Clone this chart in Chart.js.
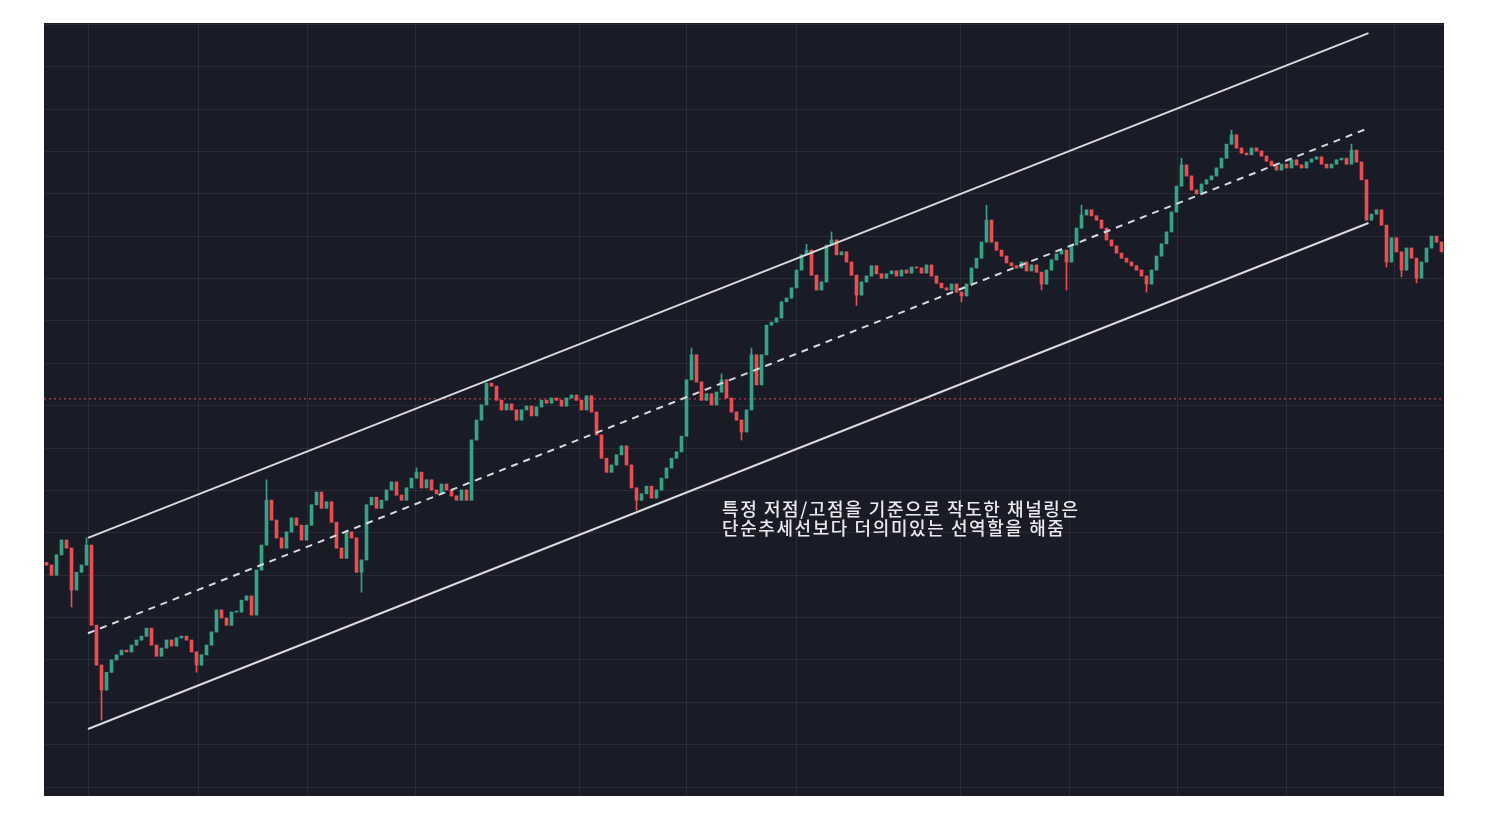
<!DOCTYPE html>
<html>
<head>
<meta charset="utf-8">
<script src="https://cdn.jsdelivr.net/npm/chart.js@4.4.1/dist/chart.umd.min.js"></script>
<style>
  html, body { margin: 0; background: #ffffff; }
  #wrap { position: absolute; left: 44px; top: 23px; width: 1400px; height: 773px; background: #191c27; }
</style>
</head>
<body>
<div id="wrap"><canvas id="myChart"></canvas></div>
<script>
// closing prices, one per candle (open = previous close)
const closes = [
  25240, 25000, 25480, 25830, 25640, 24650, 25070, 25240, 25710, 23820,
  22880, 22290, 22710, 23000, 23120, 23230, 23190, 23350, 23470, 23560,
  23750, 23350, 23090, 23280, 23470, 23330, 23520, 23560, 23470, 23190,
  22880, 23120, 23350, 23660, 24180, 23990, 23820, 24130, 24130, 24410,
  24510, 24060, 25120, 25710, 26770, 26300, 25880, 25640, 26020, 26350,
  26180, 25830, 26180, 26660, 26960, 26580, 26730, 26250, 25640, 25400,
  26020, 25880, 25070, 25360, 26660, 26840, 26580, 26770, 27010, 27200,
  26890, 26770, 27060, 27290, 27430, 27060, 27250, 27010, 26920, 27150,
  27010, 26870, 26770, 27010, 26770, 28190, 28660, 29020, 29530, 29460,
  29130, 28900, 29040, 28900, 28660, 28900, 28990, 28760, 28970, 29130,
  29060, 29180, 29130, 28990, 29180, 29250, 29130, 28900, 29230, 28850,
  28310, 27760, 27430, 27600, 27840, 28050, 27600, 27060, 26770, 26920,
  27100, 26820, 27010, 27290, 27530, 27760, 27910, 28280, 29610, 30200,
  29560, 29130, 29280, 29020, 29320, 29610, 29180, 28850, 28660, 28380,
  28900, 30200, 29490, 30200, 30900, 30970, 31070, 31450, 31540, 31780,
  32200, 32560, 32670, 32080, 31730, 31920, 32790, 32910, 32560, 32630,
  32390, 32080, 31610, 31920, 32060, 32300, 32110, 32010, 32110, 32180,
  32060, 32200, 32130, 32270, 32250, 32130, 32320, 32060, 31890, 31780,
  31730, 31870, 31680, 31590, 31870, 32250, 32480, 32860, 33380, 32860,
  32670, 32530, 32370, 32300, 32250, 32390, 32180, 32320, 32150, 31870,
  32200, 32440, 32580, 32670, 32390, 32790, 33190, 33500, 33620, 33480,
  33380, 33190, 32910, 32770, 32600, 32480, 32390, 32300, 32200, 32060,
  31870, 32200, 32530, 32820, 33100, 33570, 34180, 34680, 34420, 34090,
  34000, 34230, 34330, 34420, 34610, 34840, 35170, 35390, 35080, 34960,
  34920, 35080, 35010, 34890, 34770, 34660, 34560, 34700, 34610, 34800,
  34680, 34610, 34750, 34820, 34870, 34700, 34610, 34700, 34800, 34840,
  34700, 35030, 34750, 34330, 33380, 33520, 33620, 33260, 32390, 32960,
  32630, 32200, 32720, 32480, 32010, 32390, 32720, 33000, 32860, 32630
];
const firstOpen = 25300;

// long wicks [candle, price]
const wickHighs = [[8, 25880], [44, 27250], [74, 27530], [129, 30360], [135, 29750], [141, 30360],
  [152, 32810], [157, 33100], [188, 33730], [207, 33730], [227, 34840], [237, 35500], [261, 35170]];
const wickLows = [[5, 24250], [11, 21580], [30, 22710], [63, 24600], [118, 26540], [139, 28190],
  [162, 31370], [183, 31450], [199, 31730], [204, 31730], [220, 31680], [268, 32270], [271, 32040], [274, 31900]];

// grid positions
const timeTicks = [8.5, 30.3, 52.1, 73.7, 106.5, 128.1, 150.1, 182.7, 204.5, 226.1, 247.9, 269.5];
const priceTicks = [20000, 21000, 22000, 23000, 24000, 25000, 26000, 27000, 28000, 29000,
  30000, 31000, 32000, 33000, 34000, 35000, 36000, 37000, 38000];

// channel drawn through the swing low / high
const channelX = [8.3, 264.4];
const upperLine = [25880, 37790];
const midLine = [23630, 35550];
const lowerLine = [21370, 33310];
const markLevel = 29160;

const noteLines = ["특정 저점/고점을 기준으로 작도한 채널링은", "단순추세선보다 더의미있는 선역할을 해줌"];
const noteX = 135.1;
const noteY = 26780;
const noteEndX = 206.3; // first line ends here

const upColor = "#36a386";
const downColor = "#eb4d52";
const gridColor = "rgba(255,255,255,0.07)";

var opens = closes.map((c, i) => i == 0 ? firstOpen : closes[i - 1]);
var highs = closes.map((c, i) => Math.max(c, opens[i]));
var lows = closes.map((c, i) => Math.min(c, opens[i]));
wickHighs.forEach(w => { highs[w[0]] = Math.max(highs[w[0]], w[1]); });
wickLows.forEach(w => { lows[w[0]] = Math.min(lows[w[0]], w[1]); });
var candleColors = closes.map((c, i) => c >= opens[i] ? upColor : downColor);

function linePoints(ys) {
  return channelX.map((x, k) => ({ x: x, y: ys[k] }));
}

const notePlugin = {
  id: "note",
  afterDatasetsDraw(chart) {
    const ctx = chart.ctx;
    const x = chart.scales.x.getPixelForValue(noteX);
    const x2 = chart.scales.x.getPixelForValue(noteEndX);
    const y = chart.scales.y.getPixelForValue(noteY);
    ctx.save();
    ctx.font = '500 18px "Noto Sans CJK KR"';
    ctx.fillStyle = "#e8eaef";
    ctx.textBaseline = "top";
    const w = ctx.measureText(noteLines[0]).width;
    const gap = Math.max(0, (x2 - x - w) / (noteLines[0].length - 1));
    ctx.letterSpacing = gap.toFixed(2) + "px";
    noteLines.forEach((t, k) => ctx.fillText(t, x, y + k * 19));
    ctx.restore();
  }
};

new Chart("myChart", {
  data: {
    datasets: [
      {
        type: "line",
        data: [{ x: -0.5, y: markLevel }, { x: closes.length - 0.5, y: markLevel }],
        borderColor: "#e0464e",
        borderWidth: 1,
        borderDash: [2, 3],
        pointRadius: 0,
        order: 10
      },
      {
        type: "bar",
        data: closes.map((c, i) => ({ x: i, y: [lows[i], highs[i]] })),
        backgroundColor: candleColors,
        barThickness: 1,
        grouped: false,
        order: 6
      },
      {
        type: "bar",
        data: closes.map((c, i) => ({ x: i, y: [opens[i], c] })),
        backgroundColor: candleColors,
        barThickness: 3,
        minBarLength: 1,
        grouped: false,
        order: 5
      },
      {
        type: "line",
        data: linePoints(upperLine),
        borderColor: "#d8dae0",
        borderWidth: 2,
        pointRadius: 0,
        order: 1
      },
      {
        type: "line",
        data: linePoints(midLine),
        borderColor: "#d8dae0",
        borderWidth: 2,
        borderDash: [7, 6],
        pointRadius: 0,
        order: 1
      },
      {
        type: "line",
        data: linePoints(lowerLine),
        borderColor: "#d8dae0",
        borderWidth: 2,
        pointRadius: 0,
        order: 1
      }
    ]
  },
  options: {
    responsive: true,
    maintainAspectRatio: false,
    animation: false,
    plugins: {
      legend: { display: false },
      tooltip: { enabled: false }
    },
    scales: {
      x: {
        type: "linear",
        min: -0.5,
        max: closes.length - 0.5,
        offset: false,
        ticks: { display: false },
        grid: { color: gridColor, drawTicks: false, offset: false },
        border: { display: false },
        afterBuildTicks: s => { s.ticks = timeTicks.map(v => ({ value: v })); }
      },
      y: {
        min: 19790,
        max: 38030,
        ticks: { display: false },
        grid: { color: gridColor, drawTicks: false },
        border: { display: false },
        afterBuildTicks: s => { s.ticks = priceTicks.map(v => ({ value: v })); }
      }
    }
  },
  plugins: [notePlugin]
});
</script>
</body>
</html>
